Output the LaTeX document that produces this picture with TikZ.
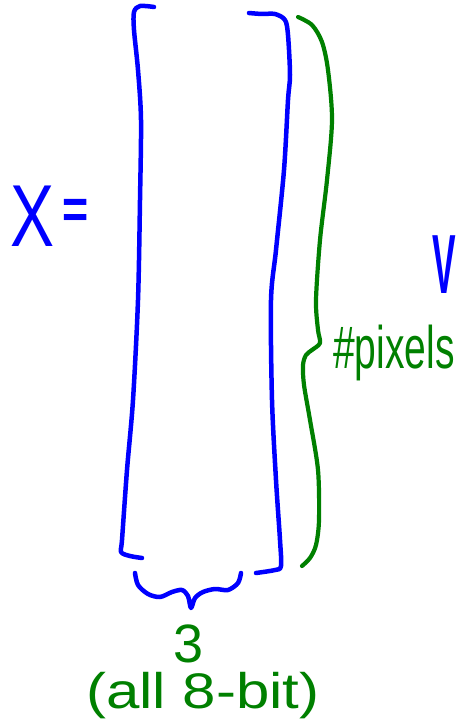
\documentclass[tikz,border=0pt]{standalone}
\usepackage{fontspec}
\setmainfont{Liberation Sans}
\usetikzlibrary{positioning}
\definecolor{inkBlue}{RGB}{0,0,255}
\definecolor{inkGreen}{RGB}{0,128,0}
\tikzset{
    penBlue/.style={draw=inkBlue, line width=4.5pt, line cap=round, line join=round},
    penGreen/.style={draw=inkGreen, line width=4.2pt, line cap=round, line join=round},
    inkText/.style={inner sep=0pt, anchor=base}
}
\newcommand{\penSize}[1]{\fontsize{#1}{#1}\selectfont}

\begin{document}
\begin{tikzpicture}[x=1pt, y=-1pt]
    \useasboundingbox (0,0) rectangle (459,720);
    % the matrix brackets
    \draw[penBlue] plot[smooth, tension=0.5] coordinates {(154,7) (140,6) (134,12) (134,30) (138,70) (141,120) (140,200) (138,300) (133,400) (127,470) (122,540) (121,552) (130,556) (142,558)};
    \draw[penBlue] plot[smooth, tension=0.5] coordinates {(249,13) (262,14) (275,14) (285,20) (288,35) (290,75) (288,100) (284,170) (276,250) (271,300) (272,400) (276,480) (280,540) (281,566) (275,570) (256,573)};
    % braces
    \draw[penGreen] plot[smooth, tension=0.5] coordinates {(298,17) (312,25) (322,42) (328,70) (332,120) (327,180) (320,240) (316,300) (318,330) (320,343) (312,350) (306,355) (303,365) (304,385) (310,420) (318,470) (319,520) (316,545) (310,558) (302,566)};
    \draw[penBlue] plot[smooth, tension=0.5] coordinates {(135,573) (138,585) (148,594) (160,597) (172,592) (182,590) (188,596) (191,608) (195,598) (203,592) (215,589) (228,590) (238,583) (241,573)};
    % labels
    \node[inkText, text=inkBlue, font=\penSize{88}, xscale=0.75] (varX) at (33,246) {X};
    \node[inkText, text=inkBlue, font=\bfseries\penSize{56}, xscale=0.8] (eqSign) at (76,228) {=};
    \node[inkText, text=inkBlue, font=\bfseries\penSize{84}, xscale=0.42] (markV) at (444,293) {V};
    \node[inkText, anchor=base west, text=inkGreen, font=\penSize{60}, xscale=0.65] (numPix) at (333,368) {\#pixels};
    \node[inkText, text=inkGreen, font=\penSize{54}] (numChan) at (189,662) {3};
    \node[inkText, anchor=base west, text=inkGreen, font=\penSize{50}, xscale=1.2] (bitNote) at (86,708) {(all 8-bit)};
\end{tikzpicture}
\end{document}
